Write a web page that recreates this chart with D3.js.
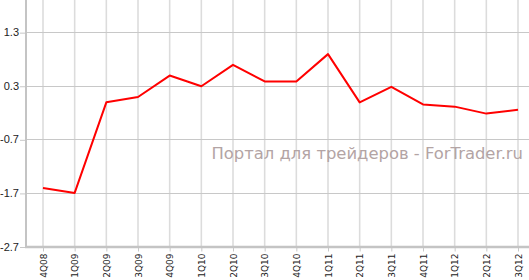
<!DOCTYPE html>
<html>
<head>
<meta charset="utf-8">
<script src="https://cdn.jsdelivr.net/npm/d3@7"></script>
<style>
  body { margin: 0; background: #fff; }
  svg { display: block; }
</style>
</head>
<body>
<div id="chart"></div>
<script>
// quarters on the x axis
const quarters = ["4Q08", "1Q09", "2Q09", "3Q09", "4Q09", "1Q10", "2Q10", "3Q10",
                  "4Q10", "1Q11", "2Q11", "3Q11", "4Q11", "1Q12", "2Q12", "3Q12"];
// series values
const values = [-1.61, -1.70, -0.01, 0.09, 0.49, 0.29, 0.69, 0.38,
                0.38, 0.89, -0.01, 0.28, -0.05, -0.09, -0.22, -0.15];
// y tick values and their labels
const yTicks = [-2.7, -1.7, -0.7, 0.3, 1.3];
const yLabels = ["-2.7", "-1.7", "-0.7", "0.3", "1.3"];
const watermark = "Портал для трейдеров - ForTrader.ru";

const width = 529, height = 280;
const left = 26, bottom = 246.5;

const svg = d3.select("#chart")
  .append("svg")
  .attr("width", width)
  .attr("height", height);

const xScale = d3.scalePoint()
  .domain(quarters)
  .range([43, 518]);

const yScale = d3.scaleLinear()
  .domain([-2.7, 1.9])
  .range([bottom, 0]);

// vertical gridlines
svg.append("g")
  .selectAll("line")
  .data(quarters)
  .join("line")
  .attr("x1", d => xScale(d))
  .attr("x2", d => xScale(d))
  .attr("y1", 0)
  .attr("y2", bottom)
  .attr("stroke", "#dcdcdc")
  .attr("stroke-width", 1.6);

// horizontal gridlines
svg.append("g")
  .selectAll("line")
  .data(yTicks)
  .join("line")
  .attr("x1", left)
  .attr("x2", width)
  .attr("y1", d => Math.round(yScale(d)) + 0.5)
  .attr("y2", d => Math.round(yScale(d)) + 0.5)
  .attr("stroke", "#c8c8c8")
  .attr("stroke-width", 1);

// y axis
const yAxis = svg.append("g")
  .attr("transform", `translate(${left},0)`)
  .call(d3.axisLeft(yScale).tickValues(yTicks).tickSize(6).tickPadding(1)
    .tickFormat((d, i) => yLabels[i]));
yAxis.select(".domain").remove();
yAxis.selectAll(".tick line").attr("stroke", "#c8c8c8")
  .attr("transform", "translate(0,0.5)");
yAxis.selectAll(".tick text")
  .attr("font-family", "Liberation Sans, Arial, sans-serif")
  .attr("font-size", "11px")
  .attr("fill", "#222");

svg.append("line")
  .attr("x1", left).attr("x2", left)
  .attr("y1", 0).attr("y2", bottom + 1)
  .attr("stroke", "#c4c4c4")
  .attr("stroke-width", 2);

// x axis
const xAxis = svg.append("g")
  .attr("transform", `translate(0,${bottom})`)
  .call(d3.axisBottom(xScale).tickSize(5).tickPadding(2));
xAxis.select(".domain").remove();
xAxis.selectAll(".tick line").attr("stroke", "#c8c8c8");
xAxis.selectAll(".tick text")
  .attr("font-family", "DejaVu Sans, Verdana, sans-serif")
  .attr("font-size", "9px")
  .attr("fill", "#222")
  .attr("transform", "rotate(-90)")
  .attr("text-anchor", "end")
  .attr("x", -7)
  .attr("y", 0)
  .attr("dy", "0.35em");

svg.append("line")
  .attr("x1", left - 1).attr("x2", width)
  .attr("y1", bottom + 0.5).attr("y2", bottom + 0.5)
  .attr("stroke", "#c4c4c4")
  .attr("stroke-width", 2.5);

// watermark
svg.append("text")
  .attr("x", 523)
  .attr("y", 159)
  .attr("text-anchor", "end")
  .attr("font-family", "DejaVu Sans, Verdana, sans-serif")
  .attr("font-size", "16.4px")
  .attr("fill", "#b3a4a4")
  .text(watermark);

// the series line
const line = d3.line()
  .x((d, i) => xScale(quarters[i]))
  .y(d => yScale(d));

svg.append("path")
  .datum(values)
  .attr("fill", "none")
  .attr("stroke", "#ff0000")
  .attr("stroke-width", 2)
  .attr("stroke-linejoin", "round")
  .attr("d", line);
</script>
</body>
</html>
